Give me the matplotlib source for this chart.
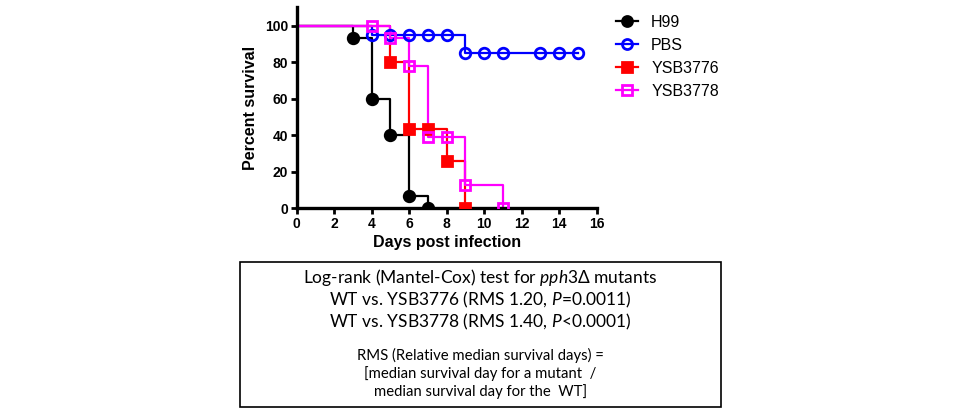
import matplotlib.pyplot as plt
from matplotlib.patches import Rectangle

plt.rcParams["font.family"] = ["Liberation Sans", "DejaVu Sans"]
plt.rcParams["mathtext.fontset"] = "custom"
plt.rcParams["mathtext.rm"] = "Lato"
plt.rcParams["mathtext.it"] = "Lato:italic"

# survival data (day of event, percent survival after it)
h99_days = [3, 4, 5, 6, 7]
h99_surv = [93.3, 60, 40, 6.7, 0]
pbs_days = [4, 5, 6, 7, 8, 9, 10, 11, 13, 14, 15]
pbs_surv = [95, 95, 95, 95, 95, 85, 85, 85, 85, 85, 85]
y3776_days = [5, 6, 7, 8, 9]
y3776_surv = [80, 43.5, 43.5, 26, 0]
y3778_days = [4, 5, 6, 7, 8, 9, 11]
y3778_surv = [100, 93.3, 77.8, 38.9, 38.9, 12.7, 0]

x_ticks = list(range(0, 17, 2))
y_ticks = [0, 20, 40, 60, 80, 100]

series = [
    ("H99", h99_days, h99_surv, "black", "o", "black"),
    ("PBS", pbs_days, pbs_surv, "#0000ff", "o", "none"),
    ("YSB3776", y3776_days, y3776_surv, "#ff0000", "s", "#ff0000"),
    ("YSB3778", y3778_days, y3778_surv, "#ff00ff", "s", "none"),
]

fig = plt.figure(figsize=(9.6, 4.15), dpi=100)
ax = fig.add_axes([296.7 / 960, 1 - 208.3 / 415, 300 / 960, 201.6 / 415])

for name, days, surv, col, mk, fc in series:
    ax.step([0] + days, [100] + surv, where="post", color=col, lw=1.6, zorder=2)
    ax.plot(days, surv, linestyle="none", marker=mk, markersize=7.6,
            markerfacecolor=fc, markeredgecolor=col, markeredgewidth=2.0,
            zorder=3)

ax.set_xlim(0, 16)
ax.set_ylim(0, 110.4)
ax.set_xticks(x_ticks)
ax.set_yticks(y_ticks)
for s in ["top", "right"]:
    ax.spines[s].set_visible(False)
for s in ["left", "bottom"]:
    ax.spines[s].set_linewidth(2.4)
ax.tick_params(width=2, length=4, labelsize=10, pad=2)
for lab in ax.get_xticklabels() + ax.get_yticklabels():
    lab.set_fontweight("bold")
ax.set_xlabel("Days post infection", fontsize=11.5, fontweight="bold", labelpad=3)
ax.set_ylabel("Percent survival", fontsize=11.5, fontweight="bold", labelpad=5)

# legend with line through the markers
leg_handles = []
for name, days, surv, col, mk, fc in series:
    lh, = ax.plot([], [], color=col, lw=1.6, marker=mk, markersize=7.2,
                  markerfacecolor=fc, markeredgecolor=col, markeredgewidth=2.0)
    leg_handles.append(lh)
fig.legend(leg_handles, [s[0] for s in series], loc="upper left",
           bbox_to_anchor=(616 / 960, 1 - 15 / 415), frameon=False,
           fontsize=11.5, handlelength=1.4, handletextpad=0.8,
           labelspacing=0.5, borderpad=0, borderaxespad=0)

# text box below chart
fig.patches.append(Rectangle((240 / 960, 1 - 407 / 415), 481 / 960, 145 / 415,
                             transform=fig.transFigure, fill=False,
                             edgecolor="black", lw=1.2))
cx = 480.5 / 960
big = 12.5
small = 10.7
fig.text(cx, 1 - 277.7 / 415, r"Log-rank (Mantel-Cox) test for $\mathit{pph3}$Δ mutants",
         ha="center", va="center", fontsize=big, family=["Lato", "DejaVu Sans"])
fig.text(cx, 1 - 300 / 415, r"WT vs. YSB3776 (RMS 1.20, $\mathit{P}$=0.0011)",
         ha="center", va="center", fontsize=big, family="Lato")
fig.text(cx, 1 - 321.7 / 415, r"WT vs. YSB3778 (RMS 1.40, $\mathit{P}$<0.0001)",
         ha="center", va="center", fontsize=big, family="Lato")
fig.text(cx, 1 - 355 / 415, "RMS (Relative median survival days) =",
         ha="center", va="center", fontsize=small, family="Lato")
fig.text(cx, 1 - 373.3 / 415, "[median survival day for a mutant  /",
         ha="center", va="center", fontsize=small, family="Lato")
fig.text(cx, 1 - 391.7 / 415, "median survival day for the  WT]",
         ha="center", va="center", fontsize=small, family="Lato")

fig.savefig("out.png", dpi=100)
